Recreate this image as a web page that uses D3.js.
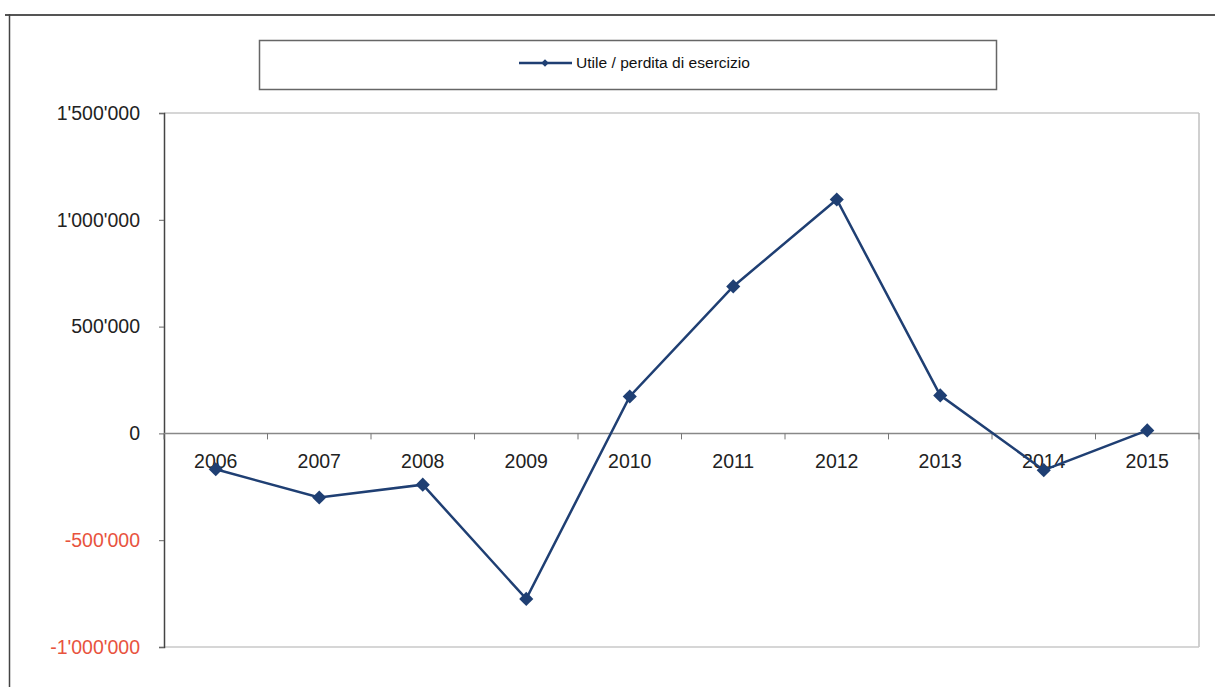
<!DOCTYPE html>
<html><head><meta charset="utf-8">
<script src="https://cdn.jsdelivr.net/npm/d3@7"></script>
<style>body{margin:0;background:#fff}svg{display:block}</style>
</head><body>
<svg id="c" width="1215" height="687"></svg>
<script>
const years = ["2006","2007","2008","2009","2010","2011","2012","2013","2014","2015"];
const values = [-168000,-300000,-240000,-775000,173000,688000,1095000,178000,-172000,14000];
const yTicks = [-1000000,-500000,0,500000,1000000,1500000];
const seriesName = "Utile / perdita di esercizio";

const svg = d3.select("#c");
const L = 164, R = 1199, T = 113, B = 647;
const x = d3.scaleBand().domain(years).range([L, R]);
const y = d3.scaleLinear().domain([-1000000, 1500000]).range([B, T]);
const fmt = v => {const s = d3.format(",")(Math.abs(v)).replace(/,/g,"'"); return (v<0?"-":"")+s;};
const diamond = d3.symbol(d3.symbolSquare, 100)();

// outer frame
svg.append("line").attr("x1",5).attr("x2",1215).attr("y1",15).attr("y2",15).attr("stroke","#555").attr("stroke-width",2);
svg.append("line").attr("x1",9.5).attr("x2",9.5).attr("y1",14).attr("y2",687).attr("stroke","#444").attr("stroke-width",1.5);

// legend
svg.append("rect").attr("x",259.5).attr("y",40.5).attr("width",737).attr("height",49).attr("fill","#fff").attr("stroke","#666").attr("stroke-width",1.5);
svg.append("line").attr("x1",519).attr("x2",572).attr("y1",63).attr("y2",63).attr("stroke","#1f3f73").attr("stroke-width",2.5);
svg.append("path").attr("d",d3.symbol(d3.symbolSquare,28)()).attr("transform","translate(545,63) rotate(45)").attr("fill","#1f3f73");
svg.append("text").attr("x",576).attr("y",68).text(seriesName)
  .attr("font-family","Liberation Sans Narrow, Arial Narrow, Liberation Sans, Arial").attr("font-size",15.5)
  .attr("textLength",174).attr("lengthAdjust","spacingAndGlyphs").attr("fill","#111");

// plot area borders
svg.append("line").attr("x1",L).attr("x2",R).attr("y1",T).attr("y2",T).attr("stroke","#c8c8c8").attr("stroke-width",1.5);
svg.append("line").attr("x1",R).attr("x2",R).attr("y1",T).attr("y2",B).attr("stroke","#c0c0c0").attr("stroke-width",1.5);
svg.append("line").attr("x1",L).attr("x2",R).attr("y1",B).attr("y2",B).attr("stroke","#c8c8c8").attr("stroke-width",1.5);

// y axis
const ya = svg.append("g").attr("transform",`translate(${L},0)`).call(d3.axisLeft(y).tickValues(yTicks).tickSize(5).tickFormat(fmt));
ya.select(".domain").attr("stroke","#444").attr("stroke-width",1.5);
ya.selectAll(".tick line").attr("stroke","#666");
ya.selectAll("text").attr("font-family","Liberation Sans, Arial").attr("font-size",19.5).attr("x",-24)
  .attr("fill",d=>d<0?"#e8533e":"#222");

// x axis at zero
const xa = svg.append("g").attr("transform",`translate(0,${y(0)})`).call(d3.axisBottom(x).tickSize(0).tickPadding(21));
xa.select(".domain").remove();
svg.append("line").attr("x1",L).attr("x2",R).attr("y1",y(0)).attr("y2",y(0)).attr("stroke","#888").attr("stroke-width",1.5);
svg.append("g").selectAll("line").data(d3.range(years.length+1)).join("line")
  .attr("x1",i=>L+i*x.bandwidth()).attr("x2",i=>L+i*x.bandwidth())
  .attr("y1",y(0)).attr("y2",y(0)+6).attr("stroke","#777").attr("stroke-width",1);
xa.selectAll("text").attr("font-family","Liberation Sans, Arial").attr("font-size",19.5).attr("fill","#222");

// line
const cx = d => x(d) + x.bandwidth()/2;
svg.append("path").datum(years.map((yr,i)=>[cx(yr),y(values[i])]))
  .attr("d",d3.line()).attr("fill","none").attr("stroke","#1f3f73").attr("stroke-width",2.5);
svg.append("g").selectAll("path").data(years).join("path")
  .attr("d",diamond)
  .attr("transform",(d,i)=>`translate(${cx(d)},${y(values[i])}) rotate(45)`).attr("fill","#1f3f73");
</script>
</body></html>
